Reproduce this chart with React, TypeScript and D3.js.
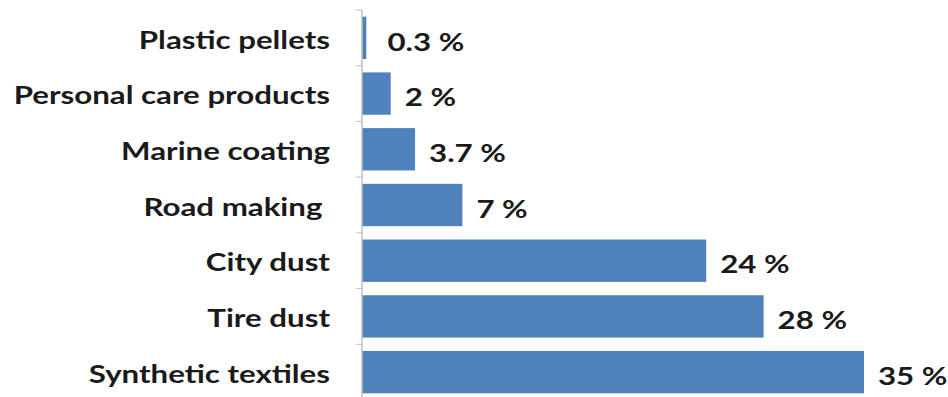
import React from "react";
import * as d3 from "d3";

const categories = [
  "Plastic pellets",
  "Personal care products",
  "Marine coating",
  "Road making ",
  "City dust",
  "Tire dust",
  "Synthetic textiles",
];
const values = [0.3, 2, 3.7, 7, 24, 28, 35];
const valueLabels = ["0.3 %", "2 %", "3.7 %", "7 %", "24 %", "28 %", "35 %"];

export default function App() {
  const W = 948;
  const H = 397;
  const axisX = 362;
  const x = d3.scaleLinear().domain([0, 35]).range([axisX, 864]);
  const y = d3
    .scaleBand<string>()
    .domain(categories)
    .range([10, 400])
    .paddingInner(0.24)
    .paddingOuter(0.12);
  const font = "Lato, 'Open Sans', sans-serif";
  const sx = 1.25;
  const fs = 25;
  return (
    <svg
      width={W}
      height={H}
      style={{ position: "absolute", left: 0, top: 0, background: "#fff" }}
    >
      {categories.map((c, i) => {
        const yb = y(c)!;
        const cy = yb + y.bandwidth() / 2;
        return (
          <g key={c}>
            <rect
              x={axisX}
              y={yb}
              width={x(values[i]) - axisX}
              height={y.bandwidth()}
              fill="#4f81bd"
            />
            <text
              transform={`translate(330,${cy + 1}) scale(${sx},1)`}
              textAnchor="end"
              dominantBaseline="central"
              fontFamily={font}
              fontWeight="bold"
              fontSize={fs}
              fill="#1a1a1a"
              style={{ whiteSpace: "pre" }}
            >
              {c}
            </text>
            <text
              transform={`translate(${x(Math.max(values[i], 0.8)) + 14},${cy + 3}) scale(${sx},1)`}
              dominantBaseline="central"
              fontFamily={font}
              fontWeight="bold"
              fontSize={fs}
              fill="#1a1a1a"
            >
              {valueLabels[i]}
            </text>
          </g>
        );
      })}
      {d3.range(categories.length + 1).map((k) => {
        const yy = 10 + (y.range()[1] - 10) * (k / categories.length);
        return (
          <line
            key={k}
            x1={axisX - 6}
            x2={axisX}
            y1={yy}
            y2={yy}
            stroke="#bfbfbf"
            strokeWidth={1}
          />
        );
      })}
      <line x1={axisX} x2={axisX} y1={10} y2={400} stroke="#bfbfbf" strokeWidth={1.5} />
    </svg>
  );
}
